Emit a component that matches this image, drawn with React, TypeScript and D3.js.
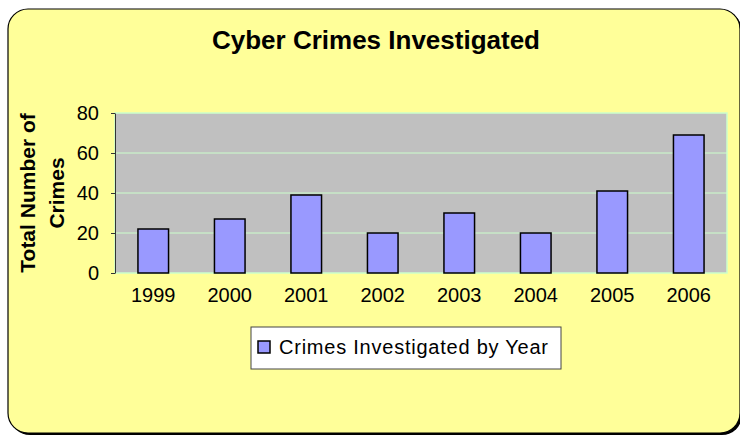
import * as React from 'react';
import * as d3 from 'd3';

const years = ['1999', '2000', '2001', '2002', '2003', '2004', '2005', '2006'];
const crimes = [22, 27, 39, 20, 30, 20, 41, 69];
const yTicks = [0, 20, 40, 60, 80];
const seriesName = 'Crimes Investigated by Year';
const chartTitle = 'Cyber Crimes Investigated';
const yTitleLines = ['Total Number of', 'Crimes'];

const width = 740;
const height = 436;
const plot = { left: 115, right: 727, top: 113, bottom: 273 };
const font = 'Arial, "Liberation Sans", sans-serif';

export default function App() {
    const svgRef = React.useRef<SVGSVGElement | null>(null);

    React.useEffect(() => {
        const svg = d3.select(svgRef.current);
        svg.selectAll('*').remove();

        // chart area with rounded corners and a little shadow
        svg.append('rect')
            .attr('x', 10).attr('y', 11)
            .attr('width', 732).attr('height', 424)
            .attr('rx', 20)
            .attr('fill', '#000');
        svg.append('rect')
            .attr('x', 8).attr('y', 9)
            .attr('width', 732).attr('height', 424)
            .attr('rx', 20)
            .attr('fill', '#ffff99')
            .attr('stroke', '#000')
            .attr('stroke-width', 1.2);

        svg.append('text')
            .attr('x', 376).attr('y', 49)
            .attr('text-anchor', 'middle')
            .attr('font-family', font)
            .attr('font-weight', 'bold')
            .attr('font-size', 26)
            .text(chartTitle);

        const xScale = d3.scaleBand<string>()
            .domain(years)
            .range([plot.left, plot.right])
            .paddingInner(0.6)
            .paddingOuter(0.3);

        const yScale = d3.scaleLinear()
            .domain([0, 80])
            .range([plot.bottom, plot.top]);

        // plot area
        svg.append('rect')
            .attr('x', plot.left).attr('y', plot.top)
            .attr('width', plot.right - plot.left)
            .attr('height', plot.bottom - plot.top)
            .attr('fill', '#c0c0c0')
            .attr('stroke', '#ccffcc')
            .attr('stroke-width', 1.5);

        svg.append('g')
            .selectAll('line')
            .data(yTicks.filter(t => t > 0 && t < 80))
            .enter()
            .append('line')
            .attr('x1', plot.left).attr('x2', plot.right)
            .attr('y1', d => yScale(d)).attr('y2', d => yScale(d))
            .attr('stroke', '#ccffcc')
            .attr('stroke-width', 1);

        const yAxis = d3.axisLeft(yScale)
            .tickValues(yTicks)
            .tickSize(4)
            .tickPadding(12)
            .tickSizeOuter(0);
        const yAxisGroup = svg.append('g')
            .attr('transform', `translate(${plot.left},0)`)
            .call(yAxis);
        yAxisGroup.select('.domain').attr('stroke', '#333');
        yAxisGroup.selectAll('line').attr('stroke', '#333');
        yAxisGroup.selectAll('text')
            .attr('font-family', font)
            .attr('font-size', 20)
            .attr('fill', '#000');

        svg.append('g')
            .selectAll('text')
            .data(years)
            .enter()
            .append('text')
            .attr('x', d => (xScale(d) || 0) + xScale.bandwidth() / 2)
            .attr('y', 302)
            .attr('text-anchor', 'middle')
            .attr('font-family', font)
            .attr('font-size', 20)
            .text(d => d);

        svg.append('g')
            .selectAll('rect')
            .data(crimes)
            .enter()
            .append('rect')
            .attr('x', (d, i) => xScale(years[i]) || 0)
            .attr('y', d => yScale(d))
            .attr('width', xScale.bandwidth())
            .attr('height', d => plot.bottom - yScale(d))
            .attr('fill', '#9999ff')
            .attr('stroke', '#000')
            .attr('stroke-width', 1.5);

        // y axis title, two rotated lines
        const yTitle = svg.append('text')
            .attr('transform', `translate(0,${(plot.top + plot.bottom) / 2}) rotate(-90)`)
            .attr('text-anchor', 'middle')
            .attr('font-family', font)
            .attr('font-weight', 'bold')
            .attr('font-size', 21);
        yTitle.selectAll('tspan')
            .data(yTitleLines)
            .enter()
            .append('tspan')
            .attr('x', 0)
            .attr('y', (d, i) => 35 + i * 29)
            .text(d => d);

        // legend
        const legend = svg.append('g');
        legend.append('rect')
            .attr('x', 251).attr('y', 327)
            .attr('width', 310).attr('height', 42)
            .attr('fill', '#fff')
            .attr('stroke', '#444')
            .attr('stroke-width', 1);
        legend.append('rect')
            .attr('x', 258).attr('y', 341)
            .attr('width', 12).attr('height', 12)
            .attr('fill', '#9999ff')
            .attr('stroke', '#000')
            .attr('stroke-width', 1.5);
        legend.append('text')
            .attr('x', 279).attr('y', 354)
            .attr('font-family', font)
            .attr('font-size', 20)
            .attr('textLength', 269)
            .text(seriesName);
    }, []);

    return <div style={{ position: 'absolute', left: 0, top: 0 }}>
        <svg ref={svgRef} width={width} height={height} style={{ display: 'block' }} />
    </div>;
}
